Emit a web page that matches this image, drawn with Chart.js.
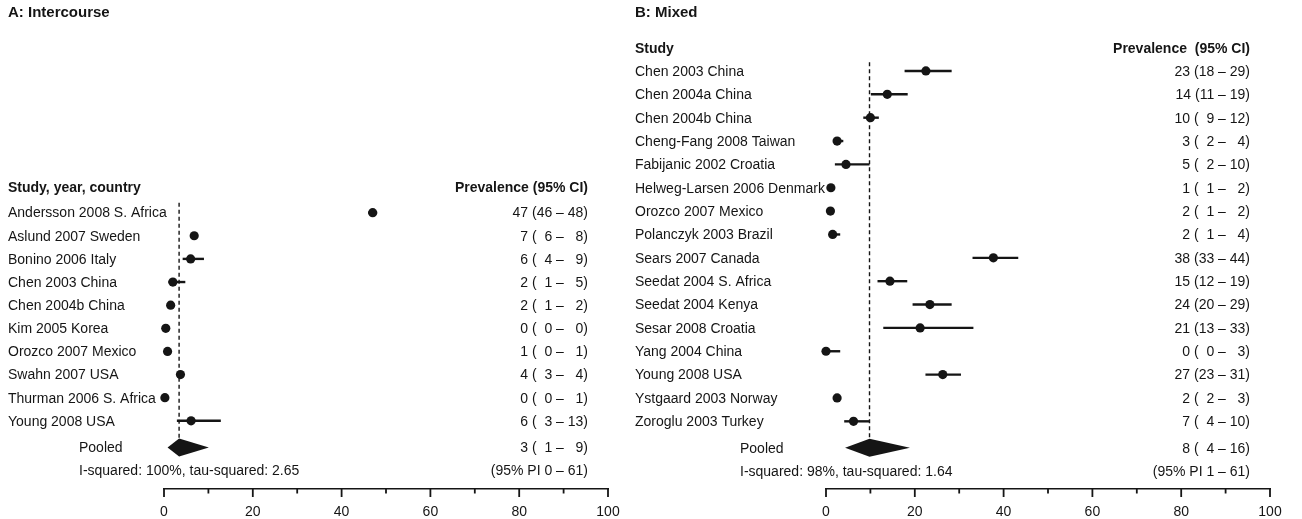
<!DOCTYPE html>
<html><head><meta charset="utf-8">
<script src="https://cdn.jsdelivr.net/npm/chart.js@4.4.1/dist/chart.umd.min.js"></script>
<style>
html,body{margin:0;padding:0;background:#fff;}
#wrap{position:relative;width:1302px;height:519px;overflow:hidden;}
canvas{position:absolute;left:0;top:0;}
</style></head><body>
<div id="wrap"><canvas id="cA" width="1302" height="519"></canvas><canvas id="cB" width="1302" height="519"></canvas></div>
<script>
// ---------------- data ----------------
const xTicks = [0, 20, 40, 60, 80, 100];
const xMinorTicks = [10, 30, 50, 70, 90];

// Panel A: Intercourse
const studiesA = ["Andersson 2008 S. Africa","Aslund 2007 Sweden","Bonino 2006 Italy","Chen 2003 China","Chen 2004b China","Kim 2005 Korea","Orozco 2007 Mexico","Swahn 2007 USA","Thurman 2006 S. Africa","Young 2008 USA"];
const estA = [47, 6.8, 6.0, 2.0, 1.5, 0.4, 0.8, 3.7, 0.2, 6.1];
const loA  = [46, 6.2, 4.2, 1.0, 1.0, 0.2, 0.4, 3.3, 0.0, 2.9];
const hiA  = [48, 7.6, 9.0, 4.8, 2.0, 0.6, 1.2, 4.2, 0.8, 12.8];
const printEstA = [47, 7, 6, 2, 2, 0, 1, 4, 0, 6];
const printLoA  = [46, 6, 4, 1, 1, 0, 0, 3, 0, 3];
const printHiA  = [48, 8, 9, 5, 2, 0, 1, 4, 1, 13];
const pooledA = [0.8, 3.4, 10.1];      // lower, estimate, upper (as drawn)
const pooledPrintA = [3, 1, 9];        // estimate, lower, upper (as printed)
const piA = [0, 61];
const hetA = ["100%", "2.65"];

// Panel B: Mixed
const studiesB = ["Chen 2003 China","Chen 2004a China","Chen 2004b China","Cheng-Fang 2008 Taiwan","Fabijanic 2002 Croatia","Helweg-Larsen 2006 Denmark","Orozco 2007 Mexico","Polanczyk 2003 Brazil","Sears 2007 Canada","Seedat 2004 S. Africa","Seedat 2004 Kenya","Sesar 2008 Croatia","Yang 2004 China","Young 2008 USA","Ystgaard 2003 Norway","Zoroglu 2003 Turkey"];
const estB = [22.5, 13.8, 10.0, 2.5, 4.5, 1.1, 1.0, 1.5, 37.7, 14.4, 23.4, 21.2, 0.0, 26.3, 2.5, 6.2];
const loB  = [17.7, 10.1, 8.4, 1.8, 2.0, 0.8, 0.8, 1.0, 33.0, 11.6, 19.5, 12.9, 0.0, 22.4, 2.0, 4.1];
const hiB  = [28.3, 18.4, 11.9, 3.9, 9.8, 1.6, 1.5, 3.2, 43.3, 18.3, 28.3, 33.2, 3.2, 30.4, 2.9, 9.8];
const printEstB = [23, 14, 10, 3, 5, 1, 2, 2, 38, 15, 24, 21, 0, 27, 2, 7];
const printLoB  = [18, 11, 9, 2, 2, 1, 1, 1, 33, 12, 20, 13, 0, 23, 2, 4];
const printHiB  = [29, 19, 12, 4, 10, 2, 2, 4, 44, 19, 29, 33, 3, 31, 3, 10];
const pooledB = [4.3, 9.8, 18.9];
const pooledPrintB = [8, 4, 16];
const piB = [1, 61];
const hetB = ["98%", "1.64"];

// ---------------- drawing ----------------
const FONT = "'Liberation Sans', Arial, Helvetica, sans-serif";
const INK = '#151515';
const FS = '\u2007';
function pad(n){ return n < 10 ? FS + n : String(n); }
function ciText(e, l, h){ return pad(e) + ' (' + pad(l) + ' \u2013 ' + pad(h) + ')'; }

function forestPlugin(cfg){
  return {
    id: 'forest' + cfg.id,
    beforeDatasetsDraw(chart){
      const ctx = chart.ctx, xs = chart.scales.x, ys = chart.scales.y;
      const n = cfg.studies.length;
      const yP = ys.getPixelForValue(n + cfg.pooledOff);
      ctx.save();
      ctx.strokeStyle = INK; ctx.lineWidth = 1.4; ctx.setLineDash([4, 3]);
      const xd = xs.getPixelForValue(cfg.pooled[1]);
      ctx.beginPath();
      ctx.moveTo(xd, ys.getPixelForValue(cfg.dashTop));
      ctx.lineTo(xd, yP - 9);
      ctx.stroke();
      ctx.setLineDash([]);
      ctx.lineWidth = 2.4;
      for (let i = 0; i < n; i++) {
        const y = ys.getPixelForValue(i);
        ctx.beginPath();
        ctx.moveTo(xs.getPixelForValue(cfg.lo[i]), y);
        ctx.lineTo(xs.getPixelForValue(cfg.hi[i]), y);
        ctx.stroke();
      }
      ctx.restore();
    },
    afterDatasetsDraw(chart){
      const ctx = chart.ctx, xs = chart.scales.x, ys = chart.scales.y;
      const n = cfg.studies.length;
      const yP = ys.getPixelForValue(n + cfg.pooledOff);
      ctx.save();
      ctx.fillStyle = INK;
      ctx.beginPath();
      ctx.moveTo(xs.getPixelForValue(cfg.pooled[0]), yP);
      ctx.lineTo(xs.getPixelForValue(cfg.pooled[1]), yP - 9);
      ctx.lineTo(xs.getPixelForValue(cfg.pooled[2]), yP);
      ctx.lineTo(xs.getPixelForValue(cfg.pooled[1]), yP + 9);
      ctx.closePath();
      ctx.fill();
      ctx.strokeStyle = INK; ctx.lineWidth = 1.8;
      const yb = chart.chartArea.bottom;
      xTicks.forEach(v => { const x = xs.getPixelForValue(v); ctx.beginPath(); ctx.moveTo(x, yb); ctx.lineTo(x, yb + 8); ctx.stroke(); });
      xMinorTicks.forEach(v => { const x = xs.getPixelForValue(v); ctx.beginPath(); ctx.moveTo(x, yb); ctx.lineTo(x, yb + 4.5); ctx.stroke(); });
      ctx.restore();
    },
    afterDraw(chart){
      const ctx = chart.ctx, ys = chart.scales.y;
      const n = cfg.studies.length;
      ctx.save();
      ctx.fillStyle = INK;
      ctx.textBaseline = 'middle';
      ctx.font = 'bold 15px ' + FONT; ctx.textAlign = 'left';
      ctx.fillText(cfg.title, cfg.titleX, 13);
      const yH = ys.getPixelForValue(cfg.headerRow);
      ctx.font = 'bold 14px ' + FONT;
      ctx.fillText(cfg.studyHeader, cfg.labelX, yH);
      ctx.textAlign = 'right';
      ctx.fillText(cfg.valueHeader, cfg.valueX, yH);
      ctx.font = '14px ' + FONT;
      for (let i = 0; i < n; i++) {
        const y = ys.getPixelForValue(i) + 1;
        ctx.textAlign = 'left';
        ctx.fillText(cfg.studies[i], cfg.labelX, y);
        ctx.textAlign = 'right';
        ctx.fillText(ciText(cfg.pe[i], cfg.pl[i], cfg.ph[i]), cfg.valueX, y);
      }
      const yP = ys.getPixelForValue(n + cfg.pooledOff) + 1;
      ctx.textAlign = 'left';
      ctx.fillText('Pooled', cfg.pooledX, yP);
      ctx.textAlign = 'right';
      ctx.fillText(ciText(cfg.pooledPrint[0], cfg.pooledPrint[1], cfg.pooledPrint[2]), cfg.valueX, yP);
      const yI = ys.getPixelForValue(n + cfg.hetOff);
      ctx.textAlign = 'left';
      ctx.fillText('I-squared: ' + cfg.het[0] + ', tau-squared: ' + cfg.het[1], cfg.pooledX, yI);
      ctx.textAlign = 'right';
      ctx.fillText('(95% PI ' + cfg.pi[0] + ' \u2013 ' + cfg.pi[1] + ')', cfg.valueX, yI);
      ctx.restore();
    }
  };
}

function makeChart(canvasId, cfg){
  const pts = cfg.est.map((v, i) => ({x: v, y: i}));
  return new Chart(document.getElementById(canvasId), {
    type: 'scatter',
    data: { datasets: [{ data: pts, clip: false, pointRadius: 4.6, pointHoverRadius: 4.6, backgroundColor: INK, borderWidth: 0, pointBorderWidth: 0 }] },
    options: {
      responsive: false, animation: false, devicePixelRatio: 1,
      events: [],
      layout: { padding: { left: cfg.padL, right: cfg.padR, top: 0, bottom: 0 } },
      plugins: { legend: { display: false }, tooltip: { enabled: false } },
      scales: {
        x: {
          type: 'linear', min: 0, max: 100, position: 'bottom',
          afterBuildTicks: s => { s.ticks = xTicks.map(v => ({ value: v })); },
          afterFit: s => { s.height = 30; },
          grid: { display: false, drawTicks: false },
          border: { display: true, color: INK, width: 1.6 },
          ticks: { color: INK, padding: 16, maxRotation: 0, autoSkip: false,
                   font: { family: FONT, size: 14, lineHeight: 1 } }
        },
        y: { type: 'linear', display: false, reverse: true, min: cfg.yMin, max: cfg.yMax }
      }
    },
    plugins: [forestPlugin(cfg)]
  });
}

makeChart('cA', {
  id: 'A', title: 'A: Intercourse', titleX: 8,
  studyHeader: 'Study, year, country', valueHeader: 'Prevalence (95% CI)',
  studies: studiesA, est: estA, lo: loA, hi: hiA,
  pe: printEstA, pl: printLoA, ph: printHiA,
  pooled: pooledA, pooledPrint: pooledPrintA, pi: piA, het: hetA,
  labelX: 8, valueX: 588, pooledX: 79,
  padL: 164, padR: 1302 - 608,
  yMin: -8.994, yMax: 11.948,
  headerRow: -1.07, dashTop: -0.43, pooledOff: 0.15, hetOff: 1.165
});

makeChart('cB', {
  id: 'B', title: 'B: Mixed', titleX: 635,
  studyHeader: 'Study', valueHeader: 'Prevalence  (95% CI)',
  studies: studiesB, est: estB, lo: loB, hi: hiB,
  pe: printEstB, pl: printLoB, ph: printHiB,
  pooled: pooledB, pooledPrint: pooledPrintB, pi: piB, het: hetB,
  labelX: 635, valueX: 1250, pooledX: 740,
  padL: 826, padR: 1302 - 1270,
  yMin: -2.841, yMax: 17.897,
  headerRow: -0.933, dashTop: -0.37, pooledOff: 0.13, hetOff: 1.163
});
</script>
</body></html>
